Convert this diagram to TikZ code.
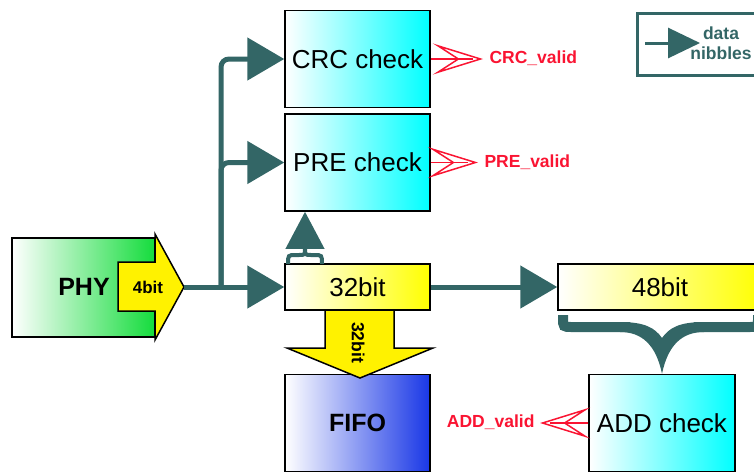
\documentclass[tikz,border=0pt]{standalone}
\usepackage{fontspec}
\setmainfont{Liberation Sans}
\usetikzlibrary{arrows.meta}
\definecolor{pipe}{RGB}{51,102,102}
\definecolor{sigred}{RGB}{250,20,50}
\definecolor{phygreen}{RGB}{20,220,60}
\definecolor{fifoblue}{RGB}{25,55,230}

\begin{document}
\begin{tikzpicture}[x=1pt,y=-1pt,
    box/.style={draw,line width=1.5pt,inner sep=0pt},
    check/.style={box,left color=white,right color=cyan,minimum width=145pt,minimum height=97pt,font=\fontsize{26}{28}\selectfont},
    reg/.style={box,left color=white,right color=yellow,minimum height=46pt,font=\fontsize{26}{28}\selectfont},
    data/.style={pipe,line width=5pt,rounded corners=8pt,-{Triangle[length=37pt,width=42pt]}},
    valid/.style={sigred,line width=1.5pt,-{Stealth[open,length=50pt,width=31pt,inset=24pt]}},
    stem/.style={sigred,line width=1.5pt,shorten >=10pt},
    lbl/.style={sigred,font=\bfseries\fontsize{17.5}{19}\selectfont},
    fat/.style={fill=yellow,draw,line width=1.5pt,line join=miter}]
  \useasboundingbox (0,0) rectangle (754,472);

  \node (crc) [check] at (357.5,59) {CRC check};
  \node (pre) [check] at (357.5,162.5) {PRE check};
  \node (add) [check,minimum width=146pt] at (662,423) {ADD check};
  \node (r32) [reg,minimum width=145pt] at (357.5,287) {32bit};
  \node (r48) [reg,minimum width=204pt] at (660,287) {48bit};
  \node (phy) [box,left color=white,right color=phygreen,minimum width=143pt,minimum height=99pt] at (83.5,287.5) {};
  \node (phytxt) [font=\bfseries\fontsize{25}{27}\selectfont] at (84,287) {PHY};
  \node (fifo) [box,left color=white,right color=fifoblue,minimum width=145pt,minimum height=97pt,
    font=\bfseries\fontsize{25}{27}\selectfont] at (357.5,423) {FIFO};

  \draw[fat] (118,262) -- (155,262) -- (155,234) -- (184,287) -- (155,340) -- (155,311) -- (118,311) -- cycle;
  \node (nib) [font=\bfseries\fontsize{17}{19}\selectfont] at (148,287) {4bit};
  \draw[fat] (325,310) -- (394,310) -- (394,348) -- (433,348) -- (360,378) -- (287,348) -- (325,348) -- cycle;
  \node (wide) [rotate=-90,font=\bfseries\fontsize{17.5}{19}\selectfont] at (358,342.5) {32bit};

  \coordinate (phytip) at (184,287);
  \coordinate (split) at (221,287);
  \draw[data] (phytip) -- (r32.west);
  \draw[data] (split) |- (crc.west);
  \draw[data] (split) |- (pre.west);
  \draw[data] (r32.east) -- (r48.west);

  \coordinate (upbase) at (305,250);
  \draw[pipe,line width=4pt] (288,264) .. controls (288,255) .. (296,255) -- (299,255)
    .. controls (305,255) .. (305,248) .. controls (305,255) .. (311,255) -- (314,255)
    .. controls (322,255) .. (322,264);
  \draw[pipe,line width=4pt,-{Triangle[length=37pt,width=38pt]}] (upbase) -- (upbase |- pre.south);

  \draw[pipe,line width=10pt] (563,315) -- (563,318) .. controls (563,327) .. (572,327) -- (630,327);
  \draw[pipe,line width=10pt] (758,315) -- (758,318) .. controls (758,327) .. (749,327) -- (694,327);
  \fill[pipe] (620,322) .. controls (645,322) and (655,328) .. (662,338)
    .. controls (669,328) and (679,322) .. (704,322) -- (704,332)
    .. controls (682,332) and (668,345) .. (add.north)
    .. controls (656,345) and (642,332) .. (620,332) -- cycle;

  \coordinate (crctip) at (483,59);
  \coordinate (pretip) at (478,162.5);
  \coordinate (addtip) at (540,423);
  \draw[valid] (crc.east) -- (crctip);
  \draw[stem] (crc.east) -- (crctip);
  \draw[valid] (pre.east) -- (pretip);
  \draw[stem] (pre.east) -- (pretip);
  \draw[valid] (add.west) -- (addtip);
  \draw[stem] (add.west) -- (addtip);
  \node (crcv) [lbl,anchor=west] at (486,58) {CRC\_valid};
  \node (prev) [lbl,anchor=west] at (481,162) {PRE\_valid};
  \node (addv) [lbl,anchor=east] at (538,422) {ADD\_valid};

  \node (legend) [draw=pipe,line width=3pt,minimum width=136pt,minimum height=62pt] at (705,44) {};
  \node (key) [pipe,align=center,font=\bfseries\fontsize{17.5}{20}\selectfont] at (721,43) {data\\nibbles};
  \coordinate (keytail) at (645,43);
  \coordinate (keytip) at (700,43);
  \draw[pipe,line width=3pt,-{Triangle[length=32pt,width=30pt]}] (keytail) -- (keytip);
\end{tikzpicture}
\end{document}
